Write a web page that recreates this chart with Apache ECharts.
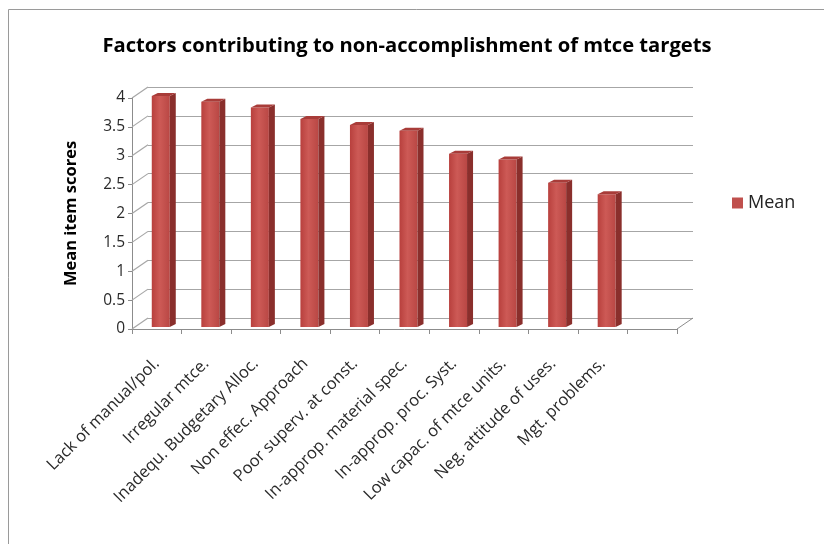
<!DOCTYPE html>
<html>
<head>
<meta charset="utf-8">
<script src="https://cdn.jsdelivr.net/npm/echarts@6/dist/echarts.min.js"></script>
<style>
html,body{margin:0;padding:0;background:#fff;}
#chart{width:824px;height:544px;}
</style>
</head>
<body>
<div id="chart"></div>
<script>
// ---- data ----
var categories = ['Lack of manual/pol.', 'Irregular mtce.', 'Inadequ. Budgetary Alloc.', 'Non effec. Approach',
  'Poor superv. at const.', 'In-approp. material spec.', 'In-approp. proc. Syst.', 'Low capac. of mtce units.',
  'Neg. attitude of uses.', 'Mgt. problems.'];
var meanValues = [4.0, 3.9, 3.8, 3.6, 3.5, 3.4, 3.0, 2.9, 2.5, 2.3];
var yTicks = [0, 0.5, 1, 1.5, 2, 2.5, 3, 3.5, 4];
var seriesName = 'Mean';
var titleText = 'Factors contributing to non-accomplishment of mtce targets';
var yAxisName = 'Mean item scores';

// ---- styling constants ----
var DX = 16, DY = -11;             // 3D depth offset of back wall
var BAR_W = 18, BAR_SIDE = 6, BAR_TOP = 3, BAR_SHIFT_X = 4, BAR_SHIFT_Y = -2;
var GRID_COLOR = '#a6a6a6';
var AXIS_COLOR = '#8c8c8c';
var FONT = 'Open Sans';

// the 3D floor has one extra empty slot at the end
var xData = categories.concat(['']);

var chart = echarts.init(document.getElementById('chart'), null, {renderer: 'canvas'});

var option = {
  backgroundColor: '#fff',
  animation: false,
  title: {
    text: titleText,
    left: 402, top: 31, textAlign: 'center',
    textStyle: {fontFamily: FONT, fontSize: 20.2, fontWeight: 'bold', color: '#000'}
  },
  legend: {
    data: [{name: seriesName, icon: 'rect'}],
    left: 727, top: 189,
    itemWidth: 11, itemHeight: 11, itemGap: 6,
    textStyle: {fontFamily: FONT, fontSize: 18, color: '#222'}
  },
  graphic: [{
    type: 'rect', silent: true, z: -10,
    shape: {x: 8.5, y: 9.5, width: 830, height: 560},
    style: {fill: null, stroke: '#9a9a9a', lineWidth: 1}
  }],
  grid: [
    {left: 132 + DX, top: 98 + DY, width: 545, height: 231},
    {left: 132, top: 98, width: 545, height: 231}
  ],
  xAxis: [
    {gridIndex: 0, type: 'category', data: xData, show: false},
    {gridIndex: 1, type: 'category', data: xData,
     axisLine: {show: true, lineStyle: {color: AXIS_COLOR, width: 1}},
     axisTick: {show: true, interval: 0, length: 5, lineStyle: {color: AXIS_COLOR}},
     axisLabel: {interval: 0, rotate: 45, margin: 32, fontFamily: FONT, fontSize: 16.5, color: '#2a2a2a'},
     splitLine: {show: false}}
  ],
  yAxis: [
    {gridIndex: 0, type: 'value', min: 0, max: 4, interval: 0.5,
     axisLine: {show: false}, axisTick: {show: false}, axisLabel: {show: false},
     splitLine: {show: true, lineStyle: {color: GRID_COLOR, width: 1.2}}},
    {gridIndex: 1, type: 'value', min: 0, max: 4, interval: 0.5,
     name: yAxisName, nameLocation: 'middle', nameGap: 52,
     nameTextStyle: {fontFamily: FONT, fontSize: 16.5, fontWeight: 'bold', color: '#000'},
     axisLine: {show: true, lineStyle: {color: AXIS_COLOR}},
     axisTick: {show: true, length: 4, lineStyle: {color: AXIS_COLOR}},
     axisLabel: {margin: 7, fontFamily: FONT, fontSize: 15.5, color: '#2a2a2a'},
     splitLine: {show: false}}
  ],
  series: [
    {
      // side wall connectors and floor edge
      type: 'custom', xAxisIndex: 1, yAxisIndex: 1, silent: true, z: 1,
      data: yTicks.map(function (v) { return [0, v]; }),
      renderItem: function (params, api) {
        var cs = params.coordSys;
        var p = api.coord([0, api.value(1)]);
        var y = p[1];
        var children = [{
          type: 'line',
          shape: {x1: cs.x, y1: y, x2: cs.x + DX, y2: y + DY},
          style: {stroke: GRID_COLOR, lineWidth: 1.2}
        }];
        if (api.value(1) === 0) {
          children.push({
            type: 'line',
            shape: {x1: cs.x + cs.width, y1: y, x2: cs.x + cs.width + DX, y2: y + DY},
            style: {stroke: AXIS_COLOR, lineWidth: 1}
          });
        }
        return {type: 'group', children: children};
      }
    },
    {
      name: seriesName,
      type: 'custom', xAxisIndex: 1, yAxisIndex: 1, z: 5,
      itemStyle: {color: '#c0504d'},
      data: meanValues.map(function (v, i) { return [i, v]; }),
      renderItem: function (params, api) {
        var base = api.coord([api.value(0), 0]);
        var top = api.coord([api.value(0), api.value(1)]);
        var x0 = base[0] + BAR_SHIFT_X - BAR_W / 2;
        var x1 = x0 + BAR_W;
        var yb = base[1] + BAR_SHIFT_Y;
        var yt = top[1] + BAR_SHIFT_Y;
        return {
          type: 'group',
          children: [
            {type: 'rect', shape: {x: x0, y: yt, width: BAR_W, height: yb - yt},
             style: {fill: new echarts.graphic.LinearGradient(0, 0, 1, 0, [
               {offset: 0, color: '#b8403d'}, {offset: 0.45, color: '#cd5a56'}, {offset: 1, color: '#b94744'}])}},
            {type: 'polygon', shape: {points: [[x1, yt], [x1 + BAR_SIDE, yt - BAR_TOP], [x1 + BAR_SIDE, yb - BAR_TOP], [x1, yb]]},
             style: {fill: '#8a2f2c'}},
            {type: 'polygon', shape: {points: [[x0, yt], [x0 + BAR_SIDE, yt - BAR_TOP], [x1 + BAR_SIDE, yt - BAR_TOP], [x1, yt]]},
             style: {fill: '#a83c39'}}
          ]
        };
      }
    }
  ]
};
chart.setOption(option);
</script>
</body>
</html>
